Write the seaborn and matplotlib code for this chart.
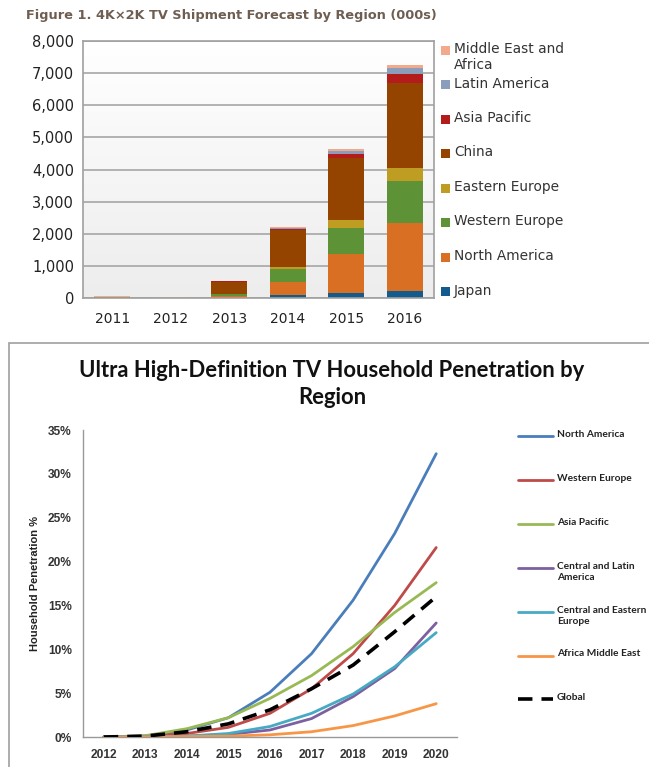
import numpy as np
import pandas as pd
import matplotlib.pyplot as plt
import seaborn as sns
from matplotlib.lines import Line2D
from matplotlib.patches import Rectangle
from matplotlib.ticker import FixedLocator, FuncFormatter

# Figure 1 data: 4Kx2K TV shipments by region (000s)
ship_years = [2011, 2012, 2013, 2014, 2015, 2016]
japan = [0, 0, 0, 80, 150, 210]
north_america = [5, 5, 60, 420, 1210, 2110]
western_europe = [40, 0, 75, 395, 820, 1320]
eastern_europe = [0, 0, 5, 60, 240, 400]
china = [0, 0, 370, 1175, 1925, 2650]
asia_pacific = [0, 0, 5, 30, 145, 290]
latin_america = [0, 0, 0, 20, 95, 170]
middle_east_africa = [5, 25, 15, 30, 50, 100]

ship_regions = ["Japan", "North America", "Western Europe", "Eastern Europe",
                "China", "Asia Pacific", "Latin America", "Middle East and\nAfrica"]
ship_colors = ["#135B8C", "#D86F23", "#5E9237", "#BE9D22",
               "#954400", "#B41B1B", "#8A9DBA", "#F3A98C"]

# Figure 2 data: UHD TV household penetration (%)
pen_years = [2012, 2013, 2014, 2015, 2016, 2017, 2018, 2019, 2020]
pen_north_america = [0, 0.1, 0.8, 2.2, 5.1, 9.5, 15.6, 23.2, 32.3]
pen_western_europe = [0, 0.1, 0.4, 1.1, 2.7, 5.5, 9.5, 15.0, 21.6]
pen_asia_pacific = [0, 0.15, 0.95, 2.2, 4.4, 7.0, 10.3, 14.2, 17.6]
pen_central_latin = [0, 0, 0.1, 0.3, 0.8, 2.1, 4.6, 7.8, 13.0]
pen_central_eastern = [0, 0, 0.1, 0.4, 1.2, 2.7, 4.9, 8.0, 11.9]
pen_africa_me = [0, 0, 0.05, 0.1, 0.25, 0.6, 1.3, 2.4, 3.8]
pen_global = [0, 0.1, 0.6, 1.5, 3.1, 5.5, 8.2, 12.0, 16.0]

pen_labels = ["North America", "Western Europe", "Asia Pacific",
              "Central and Latin\nAmerica", "Central and Eastern\nEurope",
              "Africa Middle East", "Global"]
pen_colors = ["#4A7EBB", "#BE4B48", "#98B954", "#7D60A0",
              "#46AAC5", "#F79646", "#000000"]

W, H = 649, 767
sns.set_style("white")
plt.rcParams['font.family'] = ['DejaVu Sans']

fig = plt.figure(figsize=(W / 100, H / 100), dpi=100)


def fx(px):
    return px / W


def fy(py):
    return 1 - py / H


# ---------------- Figure 1: stacked bars ----------------
ax1 = fig.add_axes([fx(83), fy(298), (434 - 83) / W, (298 - 41) / H])
ship_series = [japan, north_america, western_europe, eastern_europe,
               china, asia_pacific, latin_america, middle_east_africa]
bottom = np.zeros(len(ship_years))
for name, vals, col in zip(ship_regions, ship_series, ship_colors):
    sns.barplot(x=ship_years, y=vals, color=col, bottom=bottom, width=0.62,
                errorbar=None, linewidth=0, saturation=1, ax=ax1)
    bottom = bottom + np.array(vals)

ax1.set_xlim(-0.5, len(ship_years) - 0.5)
ax1.set_ylim(0, 8000)
grad = np.linspace(1, 0, 256).reshape(-1, 1)
ax1.imshow(grad, extent=[-0.5, len(ship_years) - 0.5, 0, 8000], aspect='auto',
           cmap=sns.blend_palette(["#EDEDED", "#FFFFFF"], as_cmap=True),
           vmin=0, vmax=1, zorder=0)
ax1.set_xlim(-0.5, len(ship_years) - 0.5)
ax1.set_ylim(0, 8000)
ax1.set_yticks(range(0, 8001, 1000))
ax1.yaxis.set_major_formatter(FuncFormatter(lambda v, p: f"{int(v):,}"))
ax1.set_axisbelow(True)
ax1.yaxis.grid(True, color="#A6A6A6", lw=1.2)
ax1.xaxis.set_minor_locator(FixedLocator(np.arange(-0.5, len(ship_years), 1)))
ax1.tick_params(axis='x', which='major', length=0, labelsize=10, pad=10, colors="#222222")
ax1.tick_params(axis='x', which='minor', length=5, color="#888888", width=1)
ax1.tick_params(axis='y', length=3, color="#888888", labelsize=10.5, colors="#222222")
for sp in ax1.spines.values():
    sp.set_color("#A0A0A0")
    sp.set_linewidth(1.2)
ax1.set_xlabel("")
ax1.set_ylabel("")

fig.text(fx(26), fy(15), "Figure 1. 4K\u00d72K TV Shipment Forecast by Region (000s)",
         fontsize=9.3, fontweight='bold', color="#6E5E52", va='center', ha='left')

# legend, top entry first
for i, (name, col) in enumerate(zip(ship_regions[::-1], ship_colors[::-1])):
    y = 50 + 34.5 * i
    fig.add_artist(Rectangle((fx(441), fy(y + 4.5)), 9 / W, 9 / H,
                             transform=fig.transFigure, color=col, lw=0))
    fig.text(fx(454), fy(y - 8), name, fontsize=9.9, color="#333333",
             va='top', ha='left', linespacing=1.2)

# ---------------- Figure 2: penetration lines ----------------
fig.add_artist(Rectangle((fx(9), fy(H + 5)), (W + 5 - 9) / W, (H + 5 - 343) / H,
                         transform=fig.transFigure, fill=False,
                         edgecolor="#A0A0A0", lw=1.2))

ax2 = fig.add_axes([fx(83), fy(737), (457 - 83) / W, (737 - 430) / H])
pen_series = [pen_north_america, pen_western_europe, pen_asia_pacific,
              pen_central_latin, pen_central_eastern, pen_africa_me, pen_global]
for name, vals, col in zip(pen_labels, pen_series, pen_colors):
    if name == "Global":
        sns.lineplot(x=pen_years, y=vals, color=col, lw=2.6,
                     linestyle=(0, (4, 2.5)), ax=ax2, zorder=5)
    else:
        sns.lineplot(x=pen_years, y=vals, color=col, lw=2, ax=ax2)

ax2.set_xlim(2011.5, 2020.5)
ax2.set_ylim(0, 35)
ax2.set_xticks(pen_years)
ax2.set_yticks(range(0, 36, 5))
ax2.yaxis.set_major_formatter(FuncFormatter(lambda v, p: f"{int(v)}%"))
ax2.xaxis.set_minor_locator(FixedLocator(np.arange(2011.5, 2021, 1)))
tick_font = dict(family=['Liberation Sans'], weight='bold', size=8.6)
ax2.tick_params(axis='x', which='major', length=0, pad=9)
ax2.tick_params(axis='x', which='minor', length=4, color="#888888")
ax2.tick_params(axis='y', length=4, color="#888888", pad=4)
for lab in ax2.get_xticklabels() + ax2.get_yticklabels():
    lab.set_fontproperties(tick_font)
    lab.set_color("#333333")
for side in ["top", "right"]:
    ax2.spines[side].set_visible(False)
for side in ["left", "bottom"]:
    ax2.spines[side].set_color("#999999")
    ax2.spines[side].set_linewidth(1)
ax2.set_xlabel("")
ax2.set_ylabel("Household Penetration %", fontfamily=['Liberation Sans'],
               fontweight='bold', fontsize=8, color="#222222", labelpad=6)

fig.text(fx(332), fy(384), "Ultra High-Definition TV Household Penetration by\nRegion",
         fontfamily=['Lato'], fontweight='bold', fontsize=15.8, ha='center',
         va='center', linespacing=1.3, color="#111111")

for i, (name, col) in enumerate(zip(pen_labels, pen_colors)):
    y = 436 + 43.9 * i
    ls = (0, (4, 2.5)) if name == "Global" else '-'
    fig.add_artist(Line2D([fx(518), fx(553)], [fy(y), fy(y)], color=col,
                          lw=2.6 if name == "Global" else 2, linestyle=ls,
                          transform=fig.transFigure))
    fig.text(fx(557), fy(y - 6), name, fontfamily=['Lato'], fontweight='bold',
             fontsize=7.3, color="#222222", va='top', ha='left', linespacing=1.3)

fig.savefig("out.png", dpi=100)
